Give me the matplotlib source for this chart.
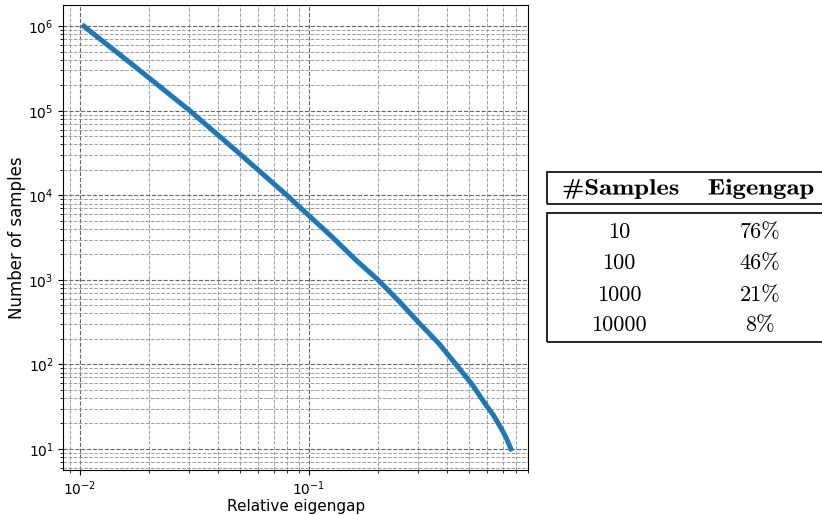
import numpy as np
import matplotlib.pyplot as plt
from matplotlib.patches import Rectangle, PathPatch
from matplotlib.textpath import TextPath
from matplotlib.font_manager import FontProperties
from matplotlib.transforms import Affine2D

# points (relative eigengap, number of samples)
eigengap = [0.0104, 0.0178, 0.0302, 0.0494, 0.0801, 0.127, 0.160, 0.200,
            0.250, 0.300, 0.370, 0.438, 0.515, 0.593, 0.640, 0.682, 0.722, 0.762]
samples = [1.0e6, 3.16e5, 1.0e5, 3.16e4, 1.0e4, 3.16e3, 1.72e3, 1.0e3,
           540, 316, 175, 100, 58, 33, 24.8, 18.5, 14, 10]

# table on the right
tab_header = ['#Samples', 'Eigengap']
tab_samples = ['10', '100', '1000', '10000']
tab_gap = ['76%', '46%', '21%', '8%']

fig = plt.figure(figsize=(8.22, 5.15), dpi=100)
ax = fig.add_axes([0.077, 0.0874, 0.5657, 0.9026])

ax.loglog(eigengap, samples, color='#1f77b4', linewidth=3.6)
ax.set_xlim(0.00845, 0.907)
ax.grid(True, which='major', linestyle='--', color='0.4', linewidth=0.8)
ax.grid(True, which='minor', linestyle='--', color='0.62', linewidth=0.7)
ax.set_xlabel('Relative eigengap', fontsize=11, labelpad=0.5)
ax.set_ylabel('Number of samples', fontsize=12, labelpad=1.5)

# table drawn in figure pixels
W, H = 822.0, 515.0
def fx(px):
    return px / W
def fy(py):
    return 1 - py / H

lw = 1.2
fig.patches.append(Rectangle((fx(547), fy(204)), fx(900) - fx(547), fy(172) - fy(204),
                             transform=fig.transFigure, fill=False, lw=lw, color='k'))
fig.patches.append(Rectangle((fx(547), fy(341.5)), fx(900) - fx(547), fy(213) - fy(341.5),
                             transform=fig.transFigure, fill=False, lw=lw, color='k'))

fs = 16
# bold header: cmb10 widened to look like bold extended
px_size = fs * 100 / 72.0
bold = FontProperties(family='cmb10')
for txt, cx in zip(tab_header, [621, 761]):
    tp = TextPath((0, 0), txt, size=px_size, prop=bold)
    ext = tp.get_extents()
    sx = 1.2
    tr = (Affine2D().translate(-(ext.x0 + ext.x1) / 2, -(ext.y0 + ext.y1) / 2)
          .scale(sx, 1).translate(cx, H - 189))
    path = tr.transform_path(tp)
    fig.patches.append(PathPatch(path, transform=Affine2D().scale(1 / W, 1 / H) + fig.transFigure,
                                 facecolor='k', edgecolor='none'))

rows_y = [232, 263, 295, 325]
for s, g, yy in zip(tab_samples, tab_gap, rows_y):
    fig.text(fx(619), fy(yy), s, ha='center', va='center', fontsize=fs, family='cmr10')
    fig.text(fx(760), fy(yy), g, ha='center', va='center', fontsize=fs, family='cmr10')

fig.savefig('out.png', dpi=100)
